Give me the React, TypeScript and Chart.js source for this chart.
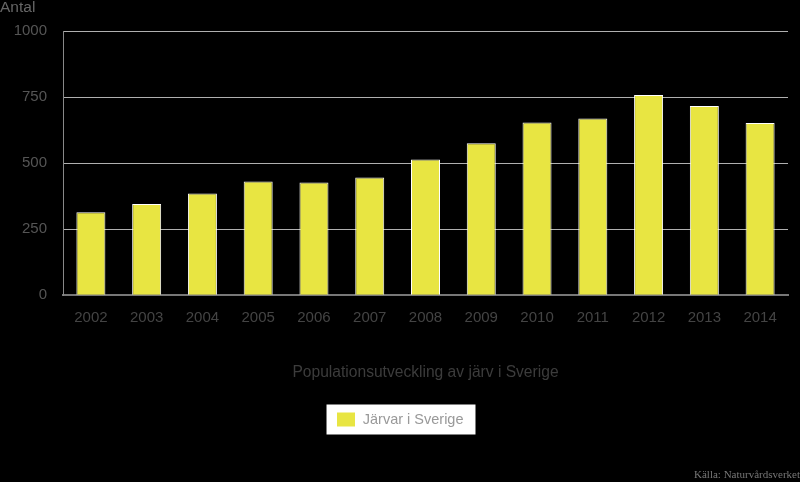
import React, { useEffect, useRef } from "react";
import { Chart, registerables } from "chart.js";

Chart.register(...registerables);

const years = ["2002", "2003", "2004", "2005", "2006", "2007", "2008", "2009", "2010", "2011", "2012", "2013", "2014"];
const wolverines = [314, 345, 385, 431, 427, 446, 514, 575, 654, 669, 758, 716, 652];
const yTicks = [0, 250, 500, 750, 1000];
const seriesLabel = "Järvar i Sverige";
const xTitle = "Populationsutveckling av järv i Sverige";
const yTitle = "Antal";
const sourceText = "Källa: Naturvårdsverket";

const FONT = "'Liberation Sans', Arial, sans-serif";

const decorPlugin = {
  id: "decor",
  afterLayout(chart: any) {
    if (chart.legend) {
      chart.legend.left += 12;
    }
  },
  beforeDraw(chart: any) {
    const ctx = chart.ctx;
    ctx.save();
    ctx.fillStyle = "#000";
    ctx.fillRect(0, 0, chart.width, chart.height);
    const hb = chart.legend && chart.legend.legendHitBoxes && chart.legend.legendHitBoxes[0];
    if (hb) {
      const cy = hb.top + hb.height / 2;
      ctx.fillStyle = "#fff";
      ctx.fillRect(hb.left - 10, cy - 15, hb.width + 22, 30);
    }
    ctx.restore();
  },
  afterDraw(chart: any) {
    const ctx = chart.ctx;
    ctx.save();
    ctx.fillStyle = "#666";
    ctx.font = `15.5px ${FONT}`;
    ctx.textAlign = "left";
    ctx.textBaseline = "middle";
    ctx.fillText(yTitle, 0, 8);
    ctx.fillStyle = "#777";
    ctx.font = "11px 'Liberation Serif', 'DejaVu Serif', serif";
    ctx.textAlign = "right";
    ctx.textBaseline = "alphabetic";
    ctx.fillText(sourceText, 800, 478);
    ctx.restore();
  },
};

export default function App() {
  const ref = useRef<HTMLCanvasElement>(null);
  useEffect(() => {
    document.body.style.margin = "0";
    document.body.style.background = "#000";
    const chart = new Chart(ref.current as HTMLCanvasElement, {
      type: "bar",
      data: {
        labels: years,
        datasets: [
          {
            label: seriesLabel,
            data: wolverines,
            backgroundColor: "#e8e542",
            borderColor: "#ffffff",
            borderWidth: 1,
            categoryPercentage: 1,
            barPercentage: 0.52,
          },
        ],
      },
      options: {
        animation: false,
        responsive: false,
        layout: { padding: { top: 31, right: 12, left: 0, bottom: 45 } },
        plugins: {
          tooltip: { enabled: false },
          legend: {
            position: "bottom",
            labels: {
              boxWidth: 19,
              boxHeight: 15,
              color: "#999",
              font: { family: FONT, size: 14.5 },
              padding: 0,
            },
          },
        },
        scales: {
          x: {
            grid: { display: false, drawTicks: false },
            border: { display: true, color: "#777", width: 2 },
            ticks: { color: "#444", font: { family: FONT, size: 15 }, padding: 14 },
            title: {
              display: true,
              text: xTitle,
              color: "#3c3c3c",
              font: { family: FONT, size: 15.6 },
              padding: { top: 22, bottom: 30 },
            },
          },
          y: {
            min: 0,
            max: 1000,
            afterFit: (s: any) => {
              s.width = 63;
            },
            afterBuildTicks: (s: any) => {
              s.ticks = yTicks.map((v) => ({ value: v }));
            },
            grid: { color: "#b0b0b0", lineWidth: 1, drawTicks: false },
            border: { display: true, color: "#888", width: 1 },
            ticks: {
              color: "#555",
              font: { family: FONT, size: 15 },
              padding: 16,
              callback: (v: any) => String(v),
            },
          },
        },
      },
      plugins: [decorPlugin],
    });
    return () => chart.destroy();
  }, []);
  return (
    <div style={{ position: "absolute", left: 0, top: 0, width: 800, height: 482, background: "#000" }}>
      <canvas ref={ref} width={800} height={482} style={{ display: "block" }} />
    </div>
  );
}
